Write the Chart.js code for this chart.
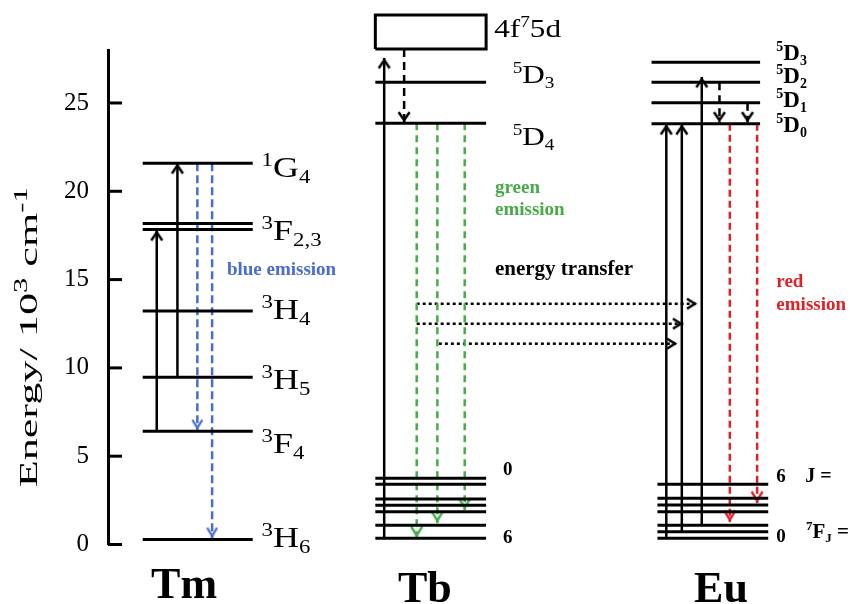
<!DOCTYPE html>
<html>
<head>
<meta charset="utf-8">
<script src="https://cdn.jsdelivr.net/npm/chart.js@4.4.1/dist/chart.umd.min.js"></script>
<style>
  html, body { margin: 0; padding: 0; background: #fff; }
  canvas { display: block; }
</style>
</head>
<body>
<canvas id="levels" width="854" height="604"></canvas>
<script>
// energies in 10^3 cm^-1
const TM_LEVEL_NAMES = ['3H6', '3F4', '3H5', '3H4', '3F2', '3F3', '1G4'];
const TM_LEVELS = [0.29, 6.41, 9.47, 13.22, 17.83, 18.17, 21.59];
const TB_LEVEL_NAMES = ['5D4', '5D3'];
const TB_LEVELS = [23.85, 26.17];
const TB_BAND = [28.06, 29.98];                                 // 4f75d
const TB_GROUND = [0.35, 1.09, 1.86, 2.22, 2.58, 3.41, 3.75];    // 7F6 .. 7F0
const EU_LEVEL_NAMES = ['5D0', '5D1', '5D2', '5D3'];
const EU_LEVELS = [23.83, 25.02, 26.17, 27.30];
const EU_GROUND = [0.35, 0.72, 1.09, 1.86, 2.24, 2.62, 3.41];    // 7F0 .. 7F6
const Y_TICKS = [0, 5, 10, 15, 20, 25];

// transitions [from, to]
const TM_PUMP = [[6.41, 17.80], [9.47, 21.59]];
const TM_BLUE = [[21.59, 6.48], [21.59, 0.37]];
const TB_PUMP = [[0.35, 27.55]];
const TB_RELAX = [[28.06, 23.90]];
const TB_GREEN = [[23.85, 0.37], [23.85, 1.22], [23.85, 1.95]];
const EU_PUMP = [[0.35, 23.80], [0.72, 23.80], [1.09, 26.47]];
const EU_RELAX = [[26.17, 23.90], [25.02, 23.90]];
const EU_RED = [[23.83, 1.27], [23.83, 2.35]];
const TRANSFER = [13.63, 12.50, 11.37];

// layout (x in arbitrary units 0..100)
const X_RANGE = [0, 100];
const Y_RANGE = [0, 28];
const COL_TM = [4.7, 19.6];
const COL_TB = [36.2, 51.2];
const COL_EU = [73.6, 88.3];
const COL_EU_GROUND = [74.4, 89.4];
const TICK_LEN = 1.9;
const X_TM_PUMP = [6.6, 9.4];
const X_TM_BLUE = [12.1, 14.1];
const X_TB_PUMP = [37.4];
const X_TB_RELAX = [40.1];
const X_TB_GREEN = [41.8, 44.6, 48.3];
const X_EU_PUMP = [75.6, 77.7, 80.4];
const X_EU_RELAX = [82.8, 86.6];
const X_EU_RED = [84.2, 87.9];
const X_TRANSFER = [[41.8, 79.8], [41.8, 77.9], [44.8, 77.1]];

const BLUE = '#4a6ccf';
const GREEN = '#47ab4a';
const RED = '#dd2228';
const SERIF = '"Liberation Serif", "Times New Roman", serif';

function chevron(color, w, h, lw) {
    const c = document.createElement('canvas');
    c.width = Math.ceil(w + 2 * lw + 4);
    c.height = Math.ceil(2 * (h + lw) + 4);
    const g = c.getContext('2d');
    const cx = c.width / 2, cy = c.height / 2;
    const shift = lw / (2 * Math.sin(Math.atan((w / 2) / h)));
    g.strokeStyle = color;
    g.lineWidth = lw;
    g.lineJoin = 'miter';
    g.beginPath();
    g.moveTo(cx - w / 2, cy + shift + h);
    g.lineTo(cx, cy + shift);
    g.lineTo(cx + w / 2, cy + shift + h);
    g.stroke();
    return c;
}

const HEAD_BLACK = chevron('#000', 11, 8, 2.5);
const HEAD_BLUE = chevron(BLUE, 10, 8, 2.2);
const HEAD_GREEN = chevron(GREEN, 11, 9, 2.5);
const HEAD_RED = chevron(RED, 11, 9, 2.5);
const HEAD_DOT = chevron('#000', 10, 8, 2.5);

const datasets = [];

function seg(points, extra) {
    datasets.push(Object.assign({
        data: points,
        showLine: true,
        borderColor: '#000',
        borderWidth: 3,
        pointRadius: 0,
        fill: false,
        clip: false
    }, extra));
}

function levels(span, energies) {
    energies.forEach(e => seg([{x: span[0], y: e}, {x: span[1], y: e}]));
}

function arrows(xs, trans, color, dash, head) {
    trans.forEach((t, i) => seg([{x: xs[i], y: t[0]}, {x: xs[i], y: t[1]}], {
        borderColor: color,
        borderWidth: 2.5,
        borderDash: dash,
        pointStyle: head,
        pointRadius: [0, 5],
        pointRotation: t[1] > t[0] ? 0 : 180
    }));
}

// axis ticks (drawn inward)
Y_TICKS.forEach(v => seg([{x: X_RANGE[0], y: v}, {x: X_RANGE[0] + TICK_LEN, y: v}]));

levels(COL_TM, TM_LEVELS);
levels(COL_TB, TB_LEVELS);
levels(COL_TB, TB_GROUND);
levels(COL_EU, EU_LEVELS);
levels(COL_EU_GROUND, EU_GROUND);

// 4f75d band
seg([
    {x: COL_TB[0], y: TB_BAND[0]}, {x: COL_TB[1], y: TB_BAND[0]},
    {x: COL_TB[1], y: TB_BAND[1]}, {x: COL_TB[0], y: TB_BAND[1]},
    {x: COL_TB[0], y: TB_BAND[0]}
]);

arrows(X_TM_PUMP, TM_PUMP, '#000', [], HEAD_BLACK);
arrows(X_TM_BLUE, TM_BLUE, BLUE, [8, 4], HEAD_BLUE);
arrows(X_TB_PUMP, TB_PUMP, '#000', [], HEAD_BLACK);
arrows(X_TB_RELAX, TB_RELAX, '#000', [8, 5], HEAD_BLACK);
arrows(X_TB_GREEN, TB_GREEN, GREEN, [7, 5], HEAD_GREEN);
arrows(X_EU_PUMP, EU_PUMP, '#000', [], HEAD_BLACK);
arrows(X_EU_RELAX, EU_RELAX, '#000', [8, 5], HEAD_BLACK);
arrows(X_EU_RED, EU_RED, RED, [7, 4], HEAD_RED);

TRANSFER.forEach((e, i) => seg([{x: X_TRANSFER[i][0], y: e}, {x: X_TRANSFER[i][1], y: e}], {
    borderWidth: 2.5,
    borderDash: [3, 3],
    pointStyle: HEAD_DOT,
    pointRadius: [0, 5],
    pointRotation: 90
}));

// text: parts are [text, '^' | '_' | undefined]
const tmFont = {size: 30, sx: 1.2};
const tbFont = {size: 26, sx: 1.2};
const euFont = {size: 23, bold: true};
const LABELS = [
    Object.assign({parts: [['1', '^'], ['G'], ['4', '_']], x: 20.8, y: 20.81}, tmFont),
    Object.assign({parts: [['3', '^'], ['F'], ['2,3', '_']], x: 20.8, y: 17.24}, tmFont),
    Object.assign({parts: [['3', '^'], ['H'], ['4', '_']], x: 20.8, y: 12.77}, tmFont),
    Object.assign({parts: [['3', '^'], ['H'], ['5', '_']], x: 20.8, y: 8.81}, tmFont),
    Object.assign({parts: [['3', '^'], ['F'], ['4', '_']], x: 20.8, y: 5.18}, tmFont),
    Object.assign({parts: [['3', '^'], ['H'], ['6', '_']], x: 20.8, y: -0.14}, tmFont),
    Object.assign({parts: [['4f'], ['7', '^'], ['5d']], x: 52.3, y: 28.74}, tbFont),
    Object.assign({parts: [['5', '^'], ['D'], ['3', '_']], x: 54.8, y: 26.13}, tbFont),
    Object.assign({parts: [['5', '^'], ['D'], ['4', '_']], x: 54.8, y: 22.62}, tbFont),
    {parts: [['0']], x: 53.5, y: 3.94, size: 19, bold: true},
    {parts: [['6']], x: 53.5, y: 0.08, size: 19, bold: true},
    Object.assign({parts: [['5', '^'], ['D'], ['3', '_']], x: 90.5, y: 27.43}, euFont),
    Object.assign({parts: [['5', '^'], ['D'], ['2', '_']], x: 90.5, y: 26.13}, euFont),
    Object.assign({parts: [['5', '^'], ['D'], ['1', '_']], x: 90.5, y: 24.77}, euFont),
    Object.assign({parts: [['5', '^'], ['D'], ['0', '_']], x: 90.5, y: 23.36}, euFont),
    {parts: [['6']], x: 90.5, y: 3.54, size: 19, bold: true},
    {parts: [['J =']], x: 94.4, y: 3.54, size: 20, bold: true},
    {parts: [['0']], x: 90.5, y: 0.14, size: 19, bold: true},
    {parts: [['7', '^'], ['F'], ['J', '_'], [' =']], x: 94.5, y: 0.37, size: 21, bold: true},
    {parts: [['blue emission']], x: 16.1, y: 15.26, size: 19, bold: true, color: BLUE},
    {parts: [['green']], x: 52.4, y: 19.9, size: 19, bold: true, color: GREEN},
    {parts: [['emission']], x: 52.4, y: 18.66, size: 19, bold: true, color: GREEN},
    {parts: [['energy transfer']], x: 52.4, y: 15.26, size: 21, bold: true},
    {parts: [['red']], x: 90.5, y: 14.58, size: 19, bold: true, color: RED},
    {parts: [['emission']], x: 90.5, y: 13.28, size: 19, bold: true, color: RED},
    {parts: [['Tm']], x: 10.3, y: -3.03, size: 44, bold: true, align: 'center'},
    {parts: [['Tb']], x: 42.9, y: -3.26, size: 44, bold: true, align: 'center'},
    {parts: [['Eu']], x: 83.0, y: -3.26, size: 44, bold: true, align: 'center'}
];
const Y_TITLE = {parts: [['Energy/ 10'], ['3', '^'], [' cm'], ['-1', '^']], size: 26, small: 18, sx: 1.7, align: 'center'};

function drawRich(ctx, label, px, py, rotate) {
    const size = label.size;
    const small = label.small || Math.round(size * 0.62);
    const weight = label.bold ? 'bold ' : '';
    ctx.save();
    ctx.translate(px, py);
    if (rotate) ctx.rotate(rotate);
    ctx.scale(label.sx || 1, 1);
    ctx.fillStyle = label.color || '#000';
    ctx.textBaseline = 'alphabetic';
    ctx.textAlign = 'left';
    let w = 0;
    const items = label.parts.map(p => {
        const s = p[1] ? small : size;
        ctx.font = weight + s + 'px ' + SERIF;
        const item = {t: p[0], k: p[1], s: s, x: w};
        w += ctx.measureText(p[0]).width;
        return item;
    });
    const x0 = label.align === 'center' ? -w / 2 : 0;
    items.forEach(it => {
        ctx.font = weight + it.s + 'px ' + SERIF;
        const dy = it.k === '^' ? -size * 0.38 : it.k === '_' ? size * 0.2 : 0;
        ctx.fillText(it.t, x0 + it.x, dy);
    });
    ctx.restore();
}

const textPlugin = {
    id: 'richText',
    afterDraw(chart) {
        const {ctx, chartArea, scales: {x, y}} = chart;
        LABELS.forEach(l => drawRich(ctx, l, x.getPixelForValue(l.x), y.getPixelForValue(l.y)));
        drawRich(ctx, Y_TITLE, chartArea.left - 71, (chartArea.top + chartArea.bottom) / 2 + 40, -Math.PI / 2);
    }
};

new Chart(document.getElementById('levels'), {
    type: 'scatter',
    data: {datasets: datasets},
    options: {
        responsive: false,
        animation: false,
        events: [],
        layout: {padding: {top: 50, bottom: 59.5, left: 0, right: 0}},
        plugins: {
            legend: {display: false},
            tooltip: {enabled: false}
        },
        scales: {
            x: {type: 'linear', min: X_RANGE[0], max: X_RANGE[1], display: false},
            y: {
                type: 'linear',
                min: Y_RANGE[0],
                max: Y_RANGE[1],
                afterFit: scale => { scale.width = 108; },
                afterBuildTicks: scale => { scale.ticks = Y_TICKS.map(v => ({value: v})); },
                grid: {drawOnChartArea: false, drawTicks: false},
                border: {display: true, color: '#000', width: 3},
                ticks: {padding: 19, color: '#000', font: {family: SERIF, size: 25}}
            }
        }
    },
    plugins: [textPlugin]
});
</script>
</body>
</html>
